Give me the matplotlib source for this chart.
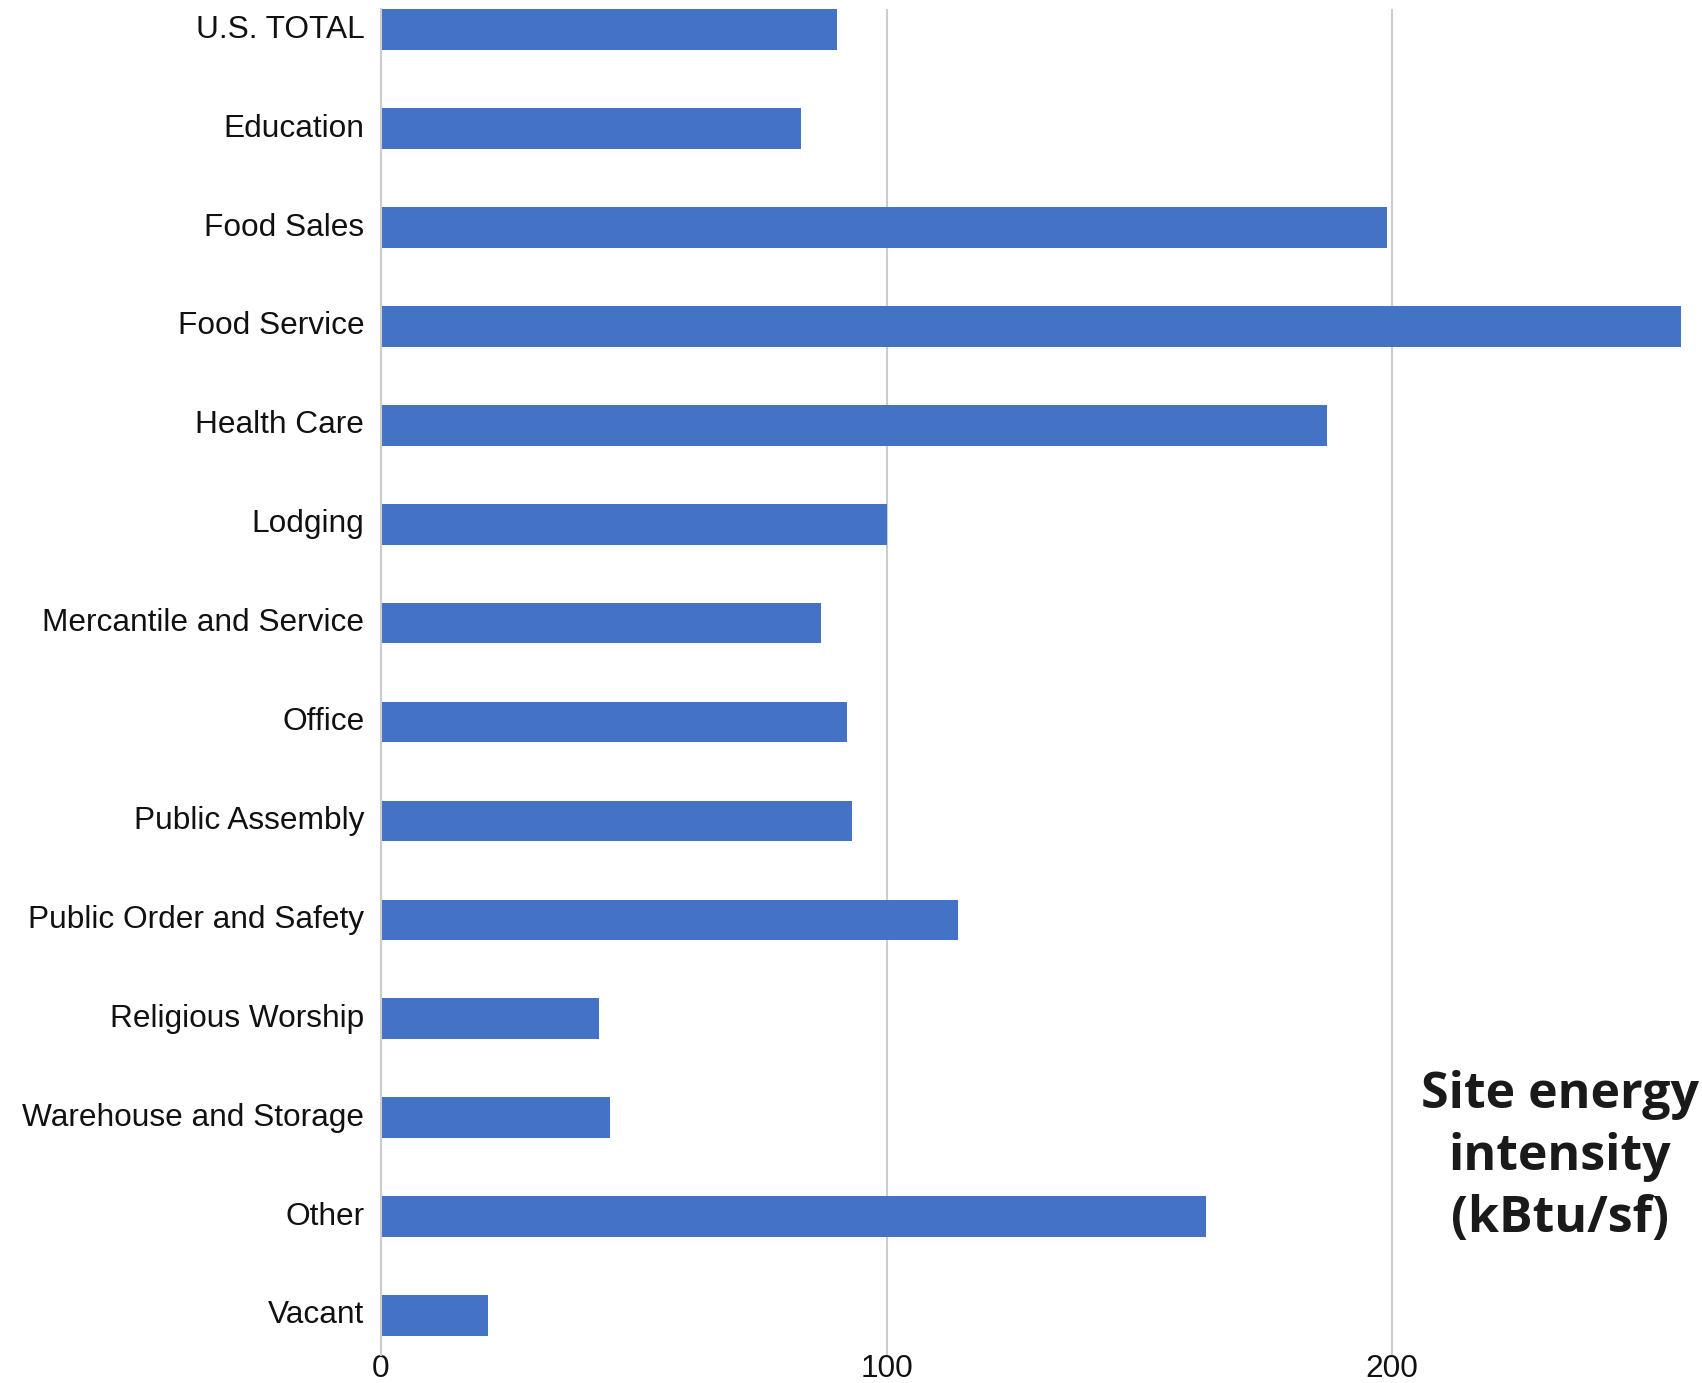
import matplotlib
matplotlib.use("Agg")
import matplotlib.pyplot as plt
import matplotlib.transforms as mtransforms

categories = ["U.S. TOTAL", "Education", "Food Sales", "Food Service", "Health Care",
              "Lodging", "Mercantile and Service", "Office", "Public Assembly",
              "Public Order and Safety", "Religious Worship", "Warehouse and Storage",
              "Other", "Vacant"]
values = [90.1, 83.1, 199.0, 257.1, 187.0, 100.0, 87.1, 92.2, 93.2, 114.2, 43.2, 45.2, 163.1, 21.1]
xticks = [0, 100, 200]

fig = plt.figure(figsize=(17.02, 13.83), dpi=100)
ax = fig.add_axes([381/1702, 28/1383, (1681-381)/1702, (1355-9)/1383])

ypos = list(range(len(categories)))
ax.barh(ypos, values, height=0.41, color="#4472C4", zorder=3)
ax.set_yticks(ypos)
ax.set_yticklabels(categories, fontsize=22.8, family="Liberation Sans", color="#111111")
ax.set_ylim(len(categories) - 1 + 0.4, -0.21)
ax.set_xlim(0, 257.1)
ax.set_xticks(xticks)
ax.set_xticklabels([str(t) for t in xticks], fontsize=22.8, family="Liberation Sans", color="#111111")
ax.tick_params(axis="both", length=0)
ax.tick_params(axis="y", pad=12)
ax.tick_params(axis="x", pad=-1)
offset = mtransforms.ScaledTranslation(0, 3.5 / 100, fig.dpi_scale_trans)
for lbl in ax.get_yticklabels():
    lbl.set_transform(lbl.get_transform() + offset)
ax.grid(axis="x", color="#cccccc", linewidth=1.5, zorder=0)
for s in ["top", "right", "bottom"]:
    ax.spines[s].set_visible(False)
ax.spines["left"].set_color("#cccccc")
ax.spines["left"].set_linewidth(1.5)
ax.spines["left"].set_zorder(4)

fig.text(1560/1702, 1 - 1157/1383, "Site energy\nintensity\n(kBtu/sf)", ha="center", va="center",
         fontsize=36, family="Open Sans", fontweight="bold", color="#1a1a1a",
         linespacing=1.32)

fig.savefig("out.png", dpi=100)
